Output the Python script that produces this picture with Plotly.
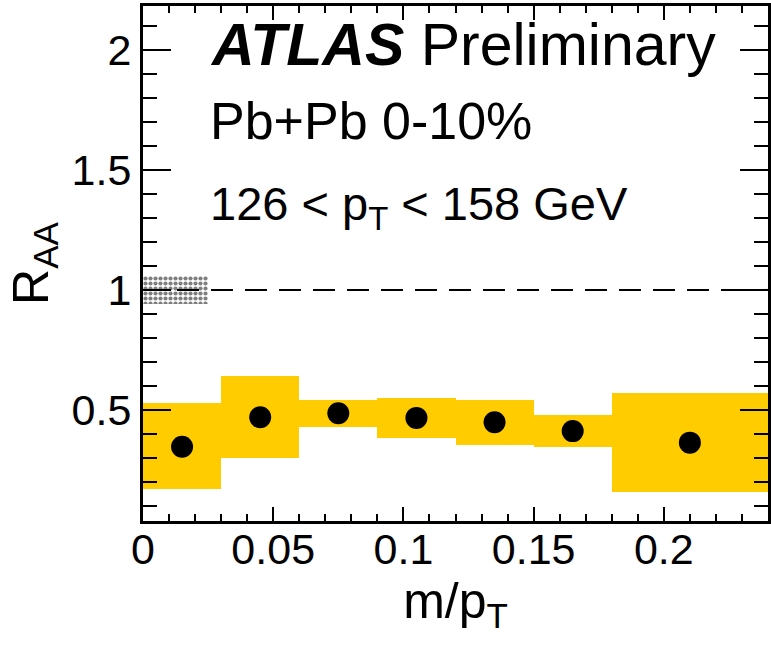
import plotly.graph_objects as go

# ---- data ----
bin_lo = [0.00, 0.03, 0.06, 0.09, 0.12, 0.15, 0.18]
bin_hi = [0.03, 0.06, 0.09, 0.12, 0.15, 0.18, 0.24]
x_pts = [0.015, 0.045, 0.075, 0.105, 0.135, 0.165, 0.21]
raa = [0.347, 0.470, 0.486, 0.467, 0.449, 0.412, 0.364]
sys_hi = [0.530, 0.642, 0.542, 0.550, 0.542, 0.479, 0.572]
sys_lo = [0.170, 0.301, 0.430, 0.385, 0.356, 0.346, 0.158]
norm_unc = 0.057
norm_box_w = 0.025
ref_line = 1.0

FONT = "Liberation Sans"

fig = go.Figure()

# systematic boxes
fig.add_trace(go.Bar(
    x=[(a + b) / 2 for a, b in zip(bin_lo, bin_hi)],
    y=[h - l for h, l in zip(sys_hi, sys_lo)],
    base=sys_lo,
    width=[b - a for a, b in zip(bin_lo, bin_hi)],
    marker=dict(color="#FFCC00", line=dict(width=0)),
    showlegend=False, hoverinfo="skip",
))

# reference dashed line
fig.add_trace(go.Scatter(
    x=[0, 0.24], y=[ref_line, ref_line], mode="lines",
    line=dict(color="black", width=2, dash="22px,12px"),
    showlegend=False, hoverinfo="skip",
))

# normalisation uncertainty box
fig.add_trace(go.Bar(
    x=[norm_box_w / 2], y=[2 * norm_unc], base=[ref_line - norm_unc],
    width=[norm_box_w],
    marker=dict(color="white", line=dict(width=0),
                pattern=dict(shape=".", fgcolor="black", bgcolor="white",
                             size=5, solidity=0.55, fillmode="overlay")),
    showlegend=False, hoverinfo="skip",
))

# data points
fig.add_trace(go.Scatter(
    x=x_pts, y=raa, mode="markers",
    marker=dict(color="black", size=22, symbol="circle"),
    showlegend=False,
))

fig.update_layout(
    width=771, height=651,
    margin=dict(l=143, r=0, t=6, b=130),
    plot_bgcolor="white", paper_bgcolor="white",
    barmode="overlay", bargap=0,
    font=dict(family=FONT, color="black"),
    xaxis=dict(
        range=[0, 0.24], tick0=0, dtick=0.05,
        ticks="inside", ticklen=14, tickwidth=2, tickcolor="black",
        minor=dict(dtick=0.01, ticks="inside", ticklen=7, tickwidth=2, tickcolor="black"),
        showline=True, linecolor="black", linewidth=3, mirror="allticks",
        showgrid=False, zeroline=False,
        tickfont=dict(size=43, family=FONT),
        ticklabelstandoff=-12,
        title=dict(text="m/p<sub>T</sub>", font=dict(size=50, family=FONT), standoff=4),
    ),
    yaxis=dict(
        range=[0.0375, 2.183], tick0=0, dtick=0.5,
        ticks="inside", ticklen=28, tickwidth=2, tickcolor="black",
        minor=dict(dtick=0.1, ticks="inside", ticklen=14, tickwidth=2, tickcolor="black"),
        showline=True, linecolor="black", linewidth=3, mirror="allticks",
        showgrid=False, zeroline=False,
        tickfont=dict(size=43, family=FONT),
        title=dict(text="R<sub>AA</sub>", font=dict(size=50, family=FONT), standoff=8),
    ),
)

x_txt = (208 - 143) / 628
fig.add_annotation(
    xref="paper", yref="paper", x=x_txt, y=(651 - 130 - 80) / 515,
    xanchor="left", yanchor="bottom", showarrow=False,
    text="<b><i>ATLAS</i></b> Preliminary", font=dict(size=59, family=FONT),
)
fig.add_annotation(
    xref="paper", yref="paper", x=x_txt, y=(651 - 130 - 152) / 515,
    xanchor="left", yanchor="bottom", showarrow=False,
    text="Pb+Pb 0-10%", font=dict(size=52, family=FONT),
)
fig.add_annotation(
    xref="paper", yref="paper", x=x_txt, y=(651 - 130 - 239) / 515,
    xanchor="left", yanchor="bottom", showarrow=False,
    text="126 &lt; p<sub>T</sub> &lt; 158 GeV", font=dict(size=47, family=FONT),
)

fig.write_html("out.html")
